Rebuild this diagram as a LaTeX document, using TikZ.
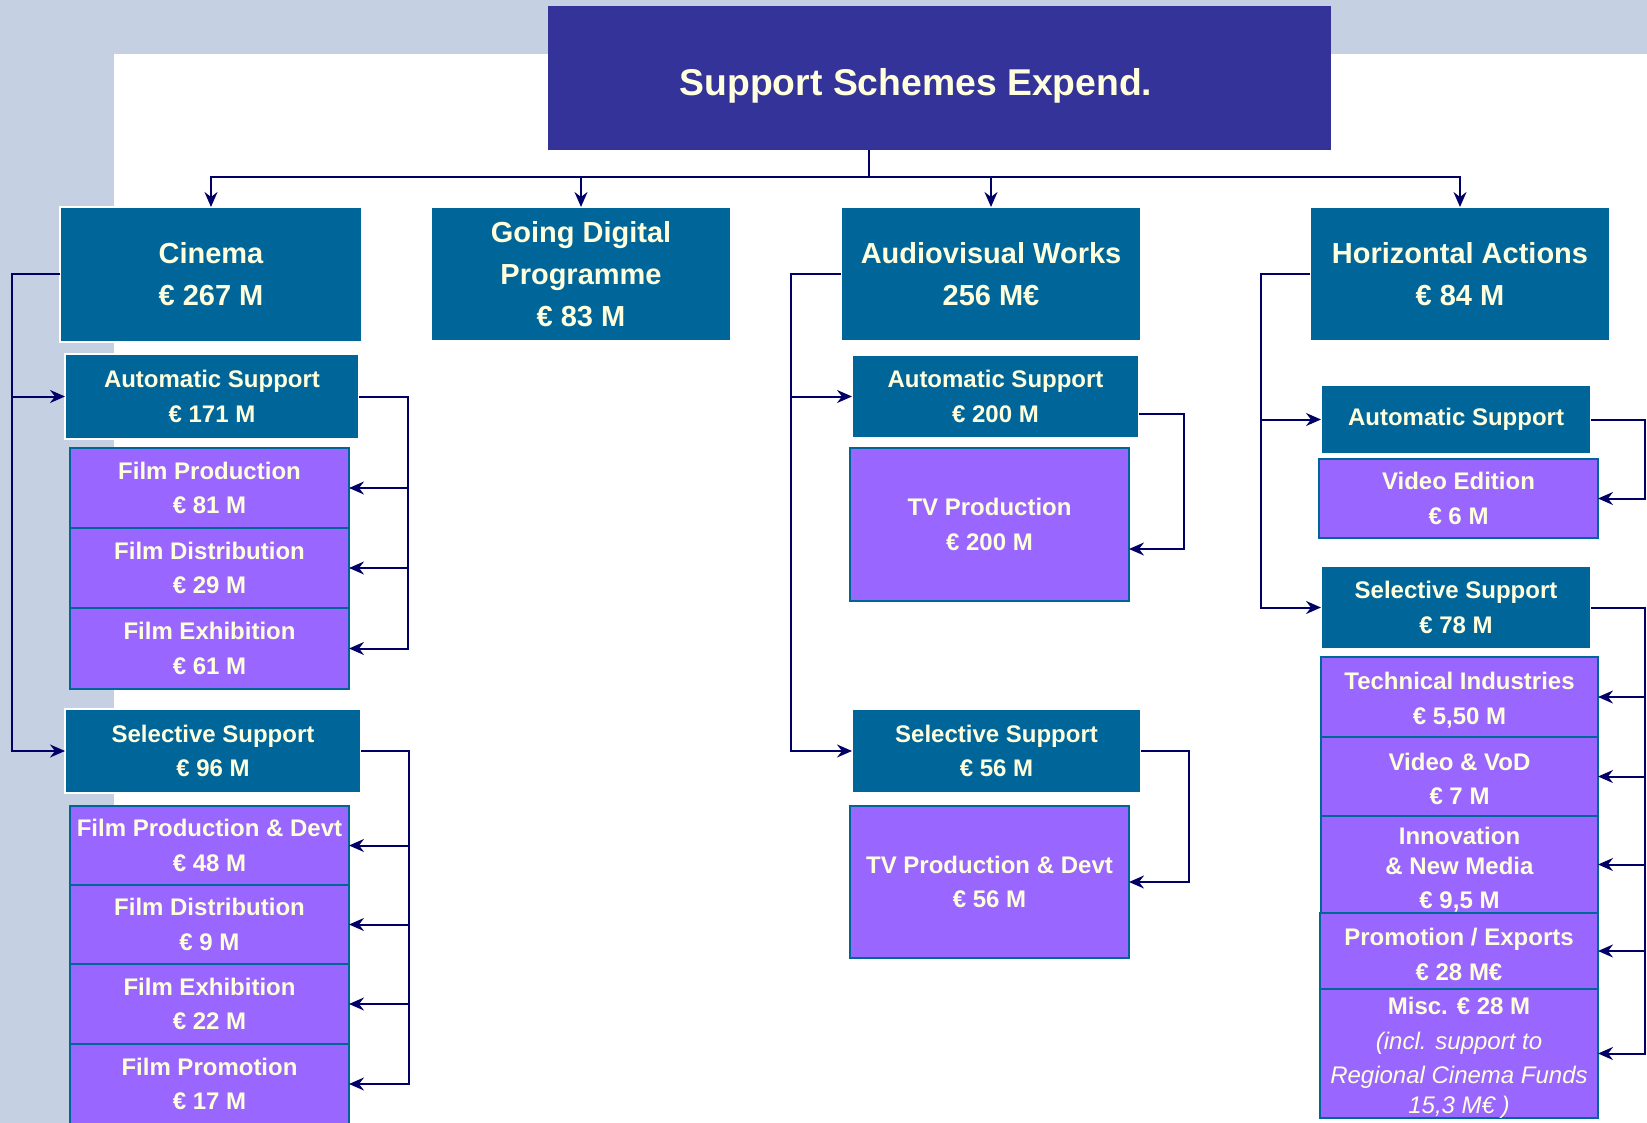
\documentclass[tikz,border=0pt]{standalone}
\usepackage{fontspec}
\setmainfont{Liberation Sans}
\usetikzlibrary{arrows.meta}
\definecolor{tealb}{HTML}{006699}
\definecolor{purpb}{HTML}{9966FF}
\definecolor{navyl}{HTML}{000066}
\definecolor{txtc}{HTML}{FFFFDD}
\definecolor{bgc}{HTML}{C5D0E3}
\definecolor{titlec}{HTML}{333399}
\tikzset{
  mainbox/.style={draw=white, line width=1.5pt, fill=tealb, text=txtc, align=center,
    inner sep=0pt, outer sep=0pt, font=\bfseries\fontsize{29}{42}\selectfont},
  subbox/.style={mainbox, font=\bfseries\fontsize{24}{34.5}\selectfont},
  leafbox/.style={draw=tealb, line width=2.5pt, fill=purpb, text=txtc, align=center,
    inner sep=0pt, outer sep=0pt, font=\bfseries\fontsize{24}{34.5}\selectfont},
  conn/.style={draw=navyl, line width=2pt},
  arr/.style={conn, -{Stealth[length=15pt,width=13pt,inset=5pt]}}
}
\begin{document}
\begin{tikzpicture}[x=1pt,y=-1pt]
\useasboundingbox (0,0) rectangle (1647,1123);
\fill[bgc] (0,0) rectangle (1647,1123);
\fill[white] (114,54) rectangle (1647,1123);

% title
\node[fill=titlec, minimum width=783pt, minimum height=144pt, inner sep=0pt, outer sep=0pt] (title) at (939.5,78) {};
\node[anchor=base, text=txtc, font=\bfseries\fontsize{37.3}{40}\selectfont, inner sep=0pt] (titletext) at (916,95.5) {Support Schemes Expend.};

% top level
\node[mainbox, minimum width=302pt, minimum height=135pt] (cinema) at (211,274.5) {Cinema\\€ 267 M};
\node[mainbox, minimum width=300pt, minimum height=134pt] (gd) at (581,274) {Going Digital\\Programme\\€ 83 M};
\node[mainbox, minimum width=300pt, minimum height=134pt] (av) at (991,274) {Audiovisual Works\\256 M€};
\node[mainbox, minimum width=300pt, minimum height=134pt] (ha) at (1460,274) {Horizontal Actions\\€ 84 M};

% cinema column
\node[subbox, minimum width=294pt, minimum height=85pt] (cauto) at (212,396.5) {Automatic Support\\€ 171 M};
\node[leafbox, minimum width=279pt, minimum height=80pt] (fp) at (209.5,488) {Film Production\\€ 81 M};
\node[leafbox, minimum width=279pt, minimum height=80pt] (fd) at (209.5,568) {Film Distribution\\€ 29 M};
\node[leafbox, minimum width=279pt, minimum height=81pt] (fe) at (209.5,648.5) {Film Exhibition\\€ 61 M};
\node[subbox, minimum width=296pt, minimum height=84pt] (csel) at (213,751) {Selective Support\\€ 96 M};
\node[leafbox, minimum width=279pt, minimum height=79pt] (spd) at (209.5,845.5) {Film Production \& Devt\\€ 48 M};
\node[leafbox, minimum width=279pt, minimum height=79pt] (sdist) at (209.5,924.5) {Film Distribution\\€ 9 M};
\node[leafbox, minimum width=279pt, minimum height=80pt] (sexh) at (209.5,1004) {Film Exhibition\\€ 22 M};
\node[leafbox, minimum width=279pt, minimum height=80pt] (sprom) at (209.5,1084) {Film Promotion\\€ 17 M};

% audiovisual column
\node[subbox, minimum width=287pt, minimum height=83pt] (avauto) at (995.5,396.5) {Automatic Support\\€ 200 M};
\node[leafbox, minimum width=279pt, minimum height=153pt] (tvp) at (989.5,524.5) {TV Production\\€ 200 M};
\node[subbox, minimum width=289pt, minimum height=84pt] (avsel) at (996.5,751) {Selective Support\\€ 56 M};
\node[leafbox, minimum width=279pt, minimum height=152pt] (tvpd) at (989.5,882) {TV Production \& Devt\\€ 56 M};

% horizontal column
\node[subbox, minimum width=270pt, minimum height=69pt] (haauto) at (1456,419.5) {Automatic Support};
\node[leafbox, minimum width=279pt, minimum height=79pt] (ved) at (1458.5,498.5) {Video Edition\\€ 6 M};
\node[subbox, minimum width=270pt, minimum height=83pt] (hasel) at (1456,607.5) {Selective Support\\€ 78 M};
\node[leafbox, minimum width=277pt, minimum height=80pt] (tech) at (1459.5,697) {\rule{0pt}{23.5pt}Technical Industries\\€ 5,50 M};
\node[leafbox, minimum width=277pt, minimum height=79pt] (vod) at (1459.5,776.5) {\rule{0pt}{22pt}Video \& VoD\\€ 7 M};
\node[leafbox, minimum width=277pt, minimum height=97pt] (innov) at (1459.5,864.5) {\rule{0pt}{28pt}Innovation\\[-5pt]\& New Media\\€ 9,5 M};
\node[leafbox, minimum width=278pt, minimum height=76pt] (promo) at (1459,951) {\rule{0pt}{24pt}Promotion / Exports\\€ 28 M€};
\node[leafbox, minimum width=278pt, minimum height=129pt] (misc) at (1459,1053.5) {\rule{0pt}{26pt}Misc. € 28 M\\\mdseries\itshape (incl. support to\\\mdseries\itshape Regional Cinema Funds\\[-5pt]\mdseries\itshape 15,3 M€ )};

% bus from title
\coordinate (bus) at (869,177);
\draw[conn, line width=2.5pt] (bus) -- (bus |- title.south);
\draw[arr] (bus) -| (cinema.north);
\draw[arr] (bus) -| (gd.north);
\draw[arr] (bus) -| (av.north);
\draw[arr] (bus) -| (ha.north);

% cinema connectors
\draw[arr] (cinema.west) -- ++(-48,0) |- (cauto.west);
\draw[arr] (cinema.west) -- ++(-48,0) |- (csel.west);
\draw[arr] (cauto.east) -- ++(49,0) |- (fp.east);
\draw[arr] (cauto.east) -- ++(49,0) |- (fd.east);
\draw[arr] (cauto.east) -- ++(49,0) |- (fe.east);
\draw[arr] (csel.east) -- ++(48,0) |- (spd.east);
\draw[arr] (csel.east) -- ++(48,0) |- (sdist.east);
\draw[arr] (csel.east) -- ++(48,0) |- (sexh.east);
\draw[arr] (csel.east) -- ++(48,0) |- (sprom.east);

% audiovisual connectors
\draw[arr] (av.west) -- ++(-50,0) |- (avauto.west);
\draw[arr] (av.west) -- ++(-50,0) |- (avsel.west);
\draw[arr] ([yshift=-17.5pt]avauto.east) -- ++(45,0) |- ([yshift=-24.5pt]tvp.east);
\draw[arr] (avsel.east) -- ++(48,0) |- (tvpd.east);

% horizontal connectors
\draw[arr] (ha.west) -- ++(-49,0) |- (haauto.west);
\draw[arr] (ha.west) -- ++(-49,0) |- (hasel.west);
\draw[arr] (haauto.east) -- ++(54,0) |- (ved.east);
\draw[arr] (hasel.east) -- ++(54,0) |- (tech.east);
\draw[arr] (hasel.east) -- ++(54,0) |- (vod.east);
\draw[arr] (hasel.east) -- ++(54,0) |- (innov.east);
\draw[arr] (hasel.east) -- ++(54,0) |- (promo.east);
\draw[arr] (hasel.east) -- ++(54,0) |- (misc.east);
\end{tikzpicture}
\end{document}
